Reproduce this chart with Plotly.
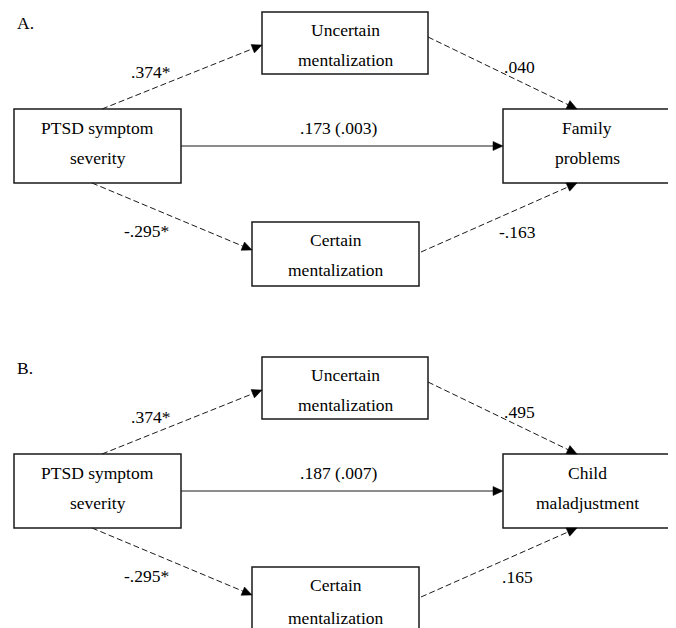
import math
import plotly.graph_objects as go

# ---- data (text content) ----
panel_labels = ["A.", "B."]
predictor_lines = ["PTSD symptom", "severity"]
uncertain_lines = ["Uncertain", "mentalization"]
certain_lines = ["Certain", "mentalization"]
outcome_lines = [["Family", "problems"], ["Child", "maladjustment"]]
coef_pred_uncertain = [".374*", ".374*"]
coef_pred_certain = ["-.295*", "-.295*"]
coef_direct = [".173 (.003)", ".187 (.007)"]
coef_uncertain_out = [".040", ".495"]
coef_certain_out = ["-.163", ".165"]

W, H = 676, 628
PAD = 8  # page body margin: data coordinates equal page pixels
FONT = "Liberation Serif, Times New Roman, serif"
FS = 17.5
INK = "#1a1a1a"

shapes = []
annotations = []


def text(x, y, s, size=FS):
    annotations.append(dict(x=x, y=y, text=s, showarrow=False, xref="x", yref="y",
                            xanchor="center", yanchor="middle",
                            font=dict(family=FONT, size=size, color="#000000")))


def box(x0, y0, x1, y1):
    shapes.append(dict(type="rect", xref="x", yref="y", x0=x0, y0=y0, x1=x1, y1=y1,
                       line=dict(color=INK, width=1.5), fillcolor="rgba(0,0,0,0)"))


def arrow(x0, y0, x1, y1, dashed=True, L=10, hw=4.5):
    dx, dy = x1 - x0, y1 - y0
    d = math.hypot(dx, dy)
    ux, uy = dx / d, dy / d
    bx, by = x1 - L * ux, y1 - L * uy
    nx, ny = -uy, ux
    shapes.append(dict(type="line", xref="x", yref="y", x0=x0, y0=y0, x1=bx, y1=by,
                       line=dict(color=INK, width=1, dash="6px,3px" if dashed else "solid")))
    path = "M {:.2f},{:.2f} L {:.2f},{:.2f} L {:.2f},{:.2f} Z".format(
        x1, y1, bx + hw * nx, by + hw * ny, bx - hw * nx, by - hw * ny)
    shapes.append(dict(type="path", xref="x", yref="y", path=path,
                       line=dict(color="#000000", width=0.5), fillcolor="#000000"))


for i in range(2):
    off = 345 * i
    # panel label
    text(25, 23 + off, panel_labels[i])
    # boxes
    box(14, 109 + off, 181, 183 + off)          # predictor
    box(262, 12 + off, 428, 74 + off)           # uncertain
    box(252, 222 + off, 419, 286 + off if i == 0 else 660)  # certain
    box(503, 109 + off, 671, 183 + off)         # outcome
    # box texts
    text(97.5, 128 + off, predictor_lines[0])
    text(97.5, 158 + off, predictor_lines[1])
    text(345, 30 + off, uncertain_lines[0])
    text(345, 60 + off, uncertain_lines[1])
    text(335.5, 240 + off, certain_lines[0])
    text(335.5, 270 + off + (3 if i else 0), certain_lines[1])
    text(587, 128 + off, outcome_lines[i][0])
    text(587, 158 + off, outcome_lines[i][1])
    # arrows
    arrow(102, 109 + off, 262, 45 + off)
    arrow(181, 146 + off, 503, 146 + off, dashed=False)
    arrow(92, 183 + off, 252, 250 + off)
    arrow(428, 37 + off, 577, 109 + off)
    arrow(421, 252 + off, 577, 183 + off)
    # coefficients
    text(150, 72 + off, coef_pred_uncertain[i])
    text(146, 231 + off, coef_pred_certain[i])
    text(338.5, 128 + off, coef_direct[i])
    text(519, 67 + off, coef_uncertain_out[i])
    text(517, 232 + off, coef_certain_out[i])

fig = go.Figure()
fig.add_trace(go.Scatter(x=[PAD, W], y=[PAD, H], mode="markers", marker=dict(opacity=0),
                         hoverinfo="skip", showlegend=False))
fig.update_layout(
    width=W, height=H, margin=dict(l=0, r=0, t=0, b=0),
    paper_bgcolor="white", plot_bgcolor="white",
    xaxis=dict(range=[PAD, W + PAD], visible=False, fixedrange=True),
    yaxis=dict(range=[H + PAD, PAD], visible=False, fixedrange=True),
    shapes=shapes, annotations=annotations, showlegend=False,
)
fig.write_html("out.html")
